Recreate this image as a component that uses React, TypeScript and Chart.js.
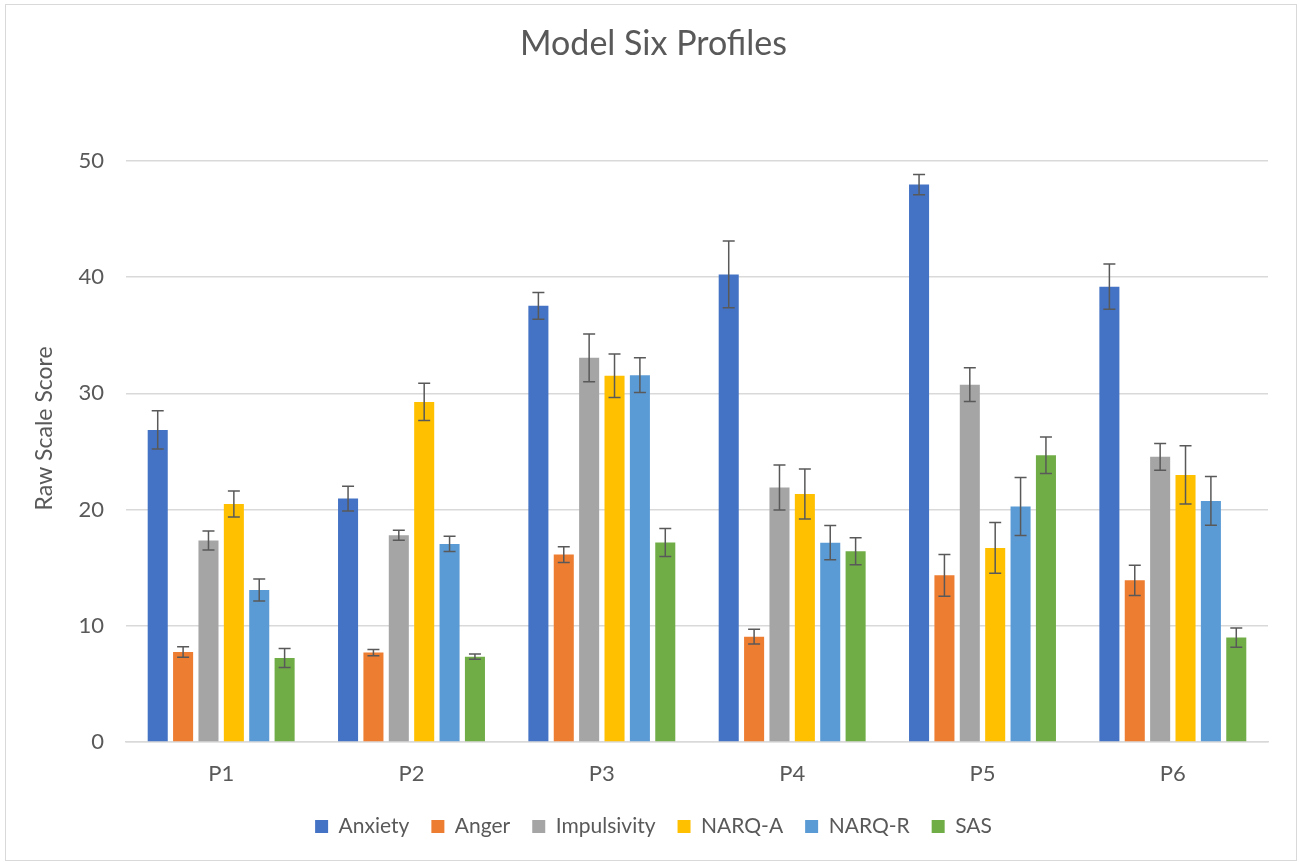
import React, { useEffect, useRef } from "react";
import { Chart, registerables } from "chart.js";

Chart.register(...registerables);

const categories = ["P1", "P2", "P3", "P4", "P5", "P6"];
const seriesNames = ["Anxiety", "Anger", "Impulsivity", "NARQ-A", "NARQ-R", "SAS"];
const seriesColors = ["#4472C4", "#ED7D31", "#A5A5A5", "#FFC000", "#5B9BD5", "#70AD47"];

const anxiety = [26.85, 20.94, 37.52, 40.22, 47.96, 39.17];
const anger = [7.75, 7.69, 16.12, 9.06, 14.34, 13.91];
const impulsivity = [17.33, 17.79, 33.05, 21.89, 30.74, 24.53];
const narqA = [20.48, 29.26, 31.5, 21.34, 16.7, 22.98];
const narqR = [13.08, 17.04, 31.56, 17.15, 20.26, 20.74];
const sas = [7.23, 7.34, 17.16, 16.41, 24.66, 8.98];

const anxietyErr = [1.65, 1.07, 1.15, 2.87, 0.87, 1.95];
const angerErr = [0.45, 0.26, 0.67, 0.63, 1.8, 1.3];
const impulsivityErr = [0.82, 0.43, 2.05, 1.94, 1.45, 1.15];
const narqAErr = [1.12, 1.6, 1.87, 2.15, 2.18, 2.5];
const narqRErr = [0.95, 0.66, 1.5, 1.48, 2.5, 2.1];
const sasErr = [0.82, 0.22, 1.2, 1.17, 1.57, 0.83];

const seriesValues = [anxiety, anger, impulsivity, narqA, narqR, sas];
const seriesErrors = [anxietyErr, angerErr, impulsivityErr, narqAErr, narqRErr, sasErr];

const yAxisTitle = "Raw Scale Score";

const FONT = "Lato, 'Noto Sans', sans-serif";
const TEXT = "#595959";

const errorBarPlugin = {
  id: "errorBars",
  afterDatasetsDraw(chart: any) {
    const ctx = chart.ctx;
    const yScale = chart.scales.y;
    ctx.save();
    ctx.strokeStyle = "#595959";
    ctx.lineWidth = 1.5;
    chart.data.datasets.forEach((ds: any, i: number) => {
      const meta = chart.getDatasetMeta(i);
      meta.data.forEach((el: any, j: number) => {
        const v = ds.data[j];
        const e = ds.errors[j];
        const x = el.x;
        const yt = yScale.getPixelForValue(v + e);
        const yb = yScale.getPixelForValue(v - e);
        const cap = 6;
        ctx.beginPath();
        ctx.moveTo(x, yt);
        ctx.lineTo(x, yb);
        ctx.moveTo(x - cap, yt);
        ctx.lineTo(x + cap, yt);
        ctx.moveTo(x - cap, yb);
        ctx.lineTo(x + cap, yb);
        ctx.stroke();
      });
    });
    ctx.restore();
  },
};

const framePlugin = {
  id: "frame",
  beforeDraw(chart: any) {
    const ctx = chart.ctx;
    ctx.save();
    ctx.fillStyle = "#FFFFFF";
    ctx.fillRect(0, 0, chart.width, chart.height);
    ctx.strokeStyle = "#D9D9D9";
    ctx.lineWidth = 1;
    ctx.strokeRect(5.5, 4.5, 1291, 856);
    ctx.restore();
  },
  afterDraw(chart: any) {
    const ctx = chart.ctx;
    const area = chart.chartArea;
    ctx.save();
    ctx.fillStyle = TEXT;
    ctx.font = `23px ${FONT}`;
    ctx.textAlign = "center";
    ctx.textBaseline = "middle";
    ctx.translate(45, (area.top + area.bottom) / 2 - 23);
    ctx.rotate(-Math.PI / 2);
    ctx.fillText(yAxisTitle, 0, 0);
    ctx.restore();
  },
};

export default function App() {
  const ref = useRef<HTMLCanvasElement | null>(null);

  useEffect(() => {
    if (!ref.current) return;
    const chart = new Chart(ref.current, {
      type: "bar",
      data: {
        labels: categories,
        datasets: seriesNames.map((name, i) => ({
          label: name,
          data: seriesValues[i],
          errors: seriesErrors[i],
          backgroundColor: seriesColors[i],
          borderWidth: 0,
          categoryPercentage: 0.8,
          barPercentage: 0.79,
        })) as any,
      },
      options: {
        animation: false,
        responsive: false,
        devicePixelRatio: 1,
        layout: { padding: { left: 39, right: 31, top: 0, bottom: 15 } },
        plugins: {
          title: {
            display: true,
            text: "Model Six Profiles",
            color: TEXT,
            font: { family: FONT, size: 34, weight: "normal" },
            padding: { top: 24, bottom: 96 },
          },
          legend: {
            position: "bottom",
            labels: {
              color: TEXT,
              font: { family: FONT, size: 21 },
              boxWidth: 13,
              boxHeight: 13,
              padding: 22,
            },
          },
          tooltip: { enabled: false },
        },
        scales: {
          x: {
            grid: { display: false, drawTicks: false },
            border: { display: true, color: "#D9D9D9", width: 1.5 },
            ticks: { color: TEXT, font: { family: FONT, size: 22 }, padding: 19 },
            afterFit(scale: any) {
              scale.height = 52;
            },
          },
          y: {
            min: 0,
            max: 50,
            ticks: { stepSize: 10, color: TEXT, font: { family: FONT, size: 22 }, padding: 22 },
            grid: { color: "#D9D9D9", lineWidth: 1.5, drawTicks: false },
            border: { display: false },
            title: { display: false, text: yAxisTitle },
            afterFit(scale: any) {
              scale.width = 87;
            },
          },
        },
      },
      plugins: [framePlugin, errorBarPlugin],
    });
    return () => chart.destroy();
  }, []);

  return (
    <div style={{ position: "fixed", left: 0, top: 0, width: 1299, height: 862 }}>
      <canvas ref={ref} width={1299} height={862} style={{ width: 1299, height: 862 }} />
    </div>
  );
}
